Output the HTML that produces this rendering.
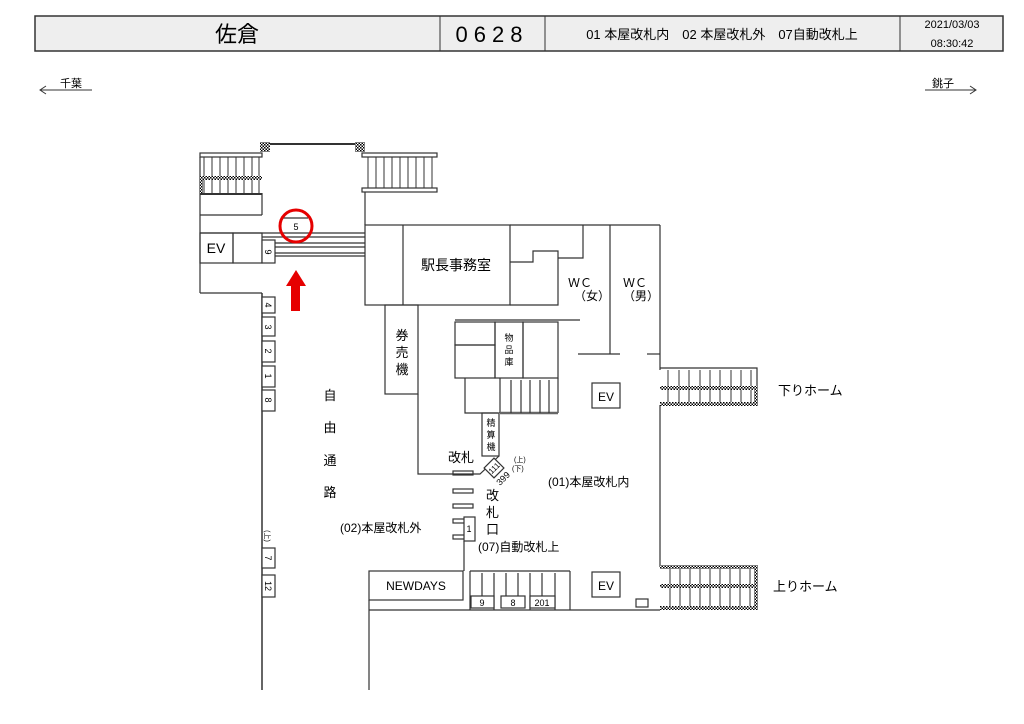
<!DOCTYPE html>
<html><head><meta charset="utf-8"><style>
html,body{margin:0;padding:0;background:#fff;}
svg{display:block;font-family:"Liberation Sans","Noto Sans CJK JP",sans-serif;}
</style></head><body>
<svg width="1024" height="724" viewBox="0 0 1024 724" xmlns="http://www.w3.org/2000/svg">
<defs>
<pattern id="h" width="3" height="3" patternUnits="userSpaceOnUse"><rect width="3" height="3" fill="#fff"/><rect width="1.5" height="1.5" fill="#000"/><rect x="1.5" y="1.5" width="1.5" height="1.5" fill="#000"/></pattern>
</defs>
<rect x="35" y="16" width="968" height="35" fill="#eeeeee" stroke="#333" stroke-width="1.5"/>
<line x1="440" y1="16" x2="440" y2="51" stroke="#333"/>
<line x1="545" y1="16" x2="545" y2="51" stroke="#333"/>
<line x1="900" y1="16" x2="900" y2="51" stroke="#333"/>
<text x="237" y="42" font-size="22" text-anchor="middle">佐倉</text>
<text x="492" y="42" font-size="22" text-anchor="middle" letter-spacing="6">0628</text>
<text x="722" y="39" font-size="13" text-anchor="middle">01 本屋改札内　02 本屋改札外　07自動改札上</text>
<text x="952" y="28" font-size="11" text-anchor="middle">2021/03/03</text>
<text x="952" y="47" font-size="11" text-anchor="middle">08:30:42</text>
<g stroke="#333" fill="none" stroke-width="1">
<line x1="40" y1="90" x2="92" y2="90"/><polyline points="46,86 40,90 46,94"/>
<line x1="925" y1="90" x2="976" y2="90"/><polyline points="970,86 976,90 970,94"/>
</g>
<text x="60" y="87" font-size="11">千葉</text>
<text x="932" y="87" font-size="11">銚子</text>
<g stroke="#333" fill="none" stroke-width="1.2">
<line x1="262" y1="144" x2="362" y2="144" stroke-width="2"/>
<rect x="200" y="153" width="62" height="4" fill="#fff"/>
<line x1="200" y1="157" x2="200" y2="293"/>
<line x1="200" y1="215" x2="262" y2="215"/>
<line x1="262" y1="193" x2="262" y2="215"/>
<line x1="200" y1="233" x2="365" y2="233"/>
<line x1="262" y1="237" x2="365" y2="237"/>
<line x1="275" y1="243" x2="365" y2="243"/>
<line x1="275" y1="247" x2="365" y2="247"/>
<line x1="275" y1="253" x2="365" y2="253"/>
<line x1="275" y1="256" x2="365" y2="256"/>
<line x1="283" y1="218" x2="308" y2="218"/>
<rect x="200" y="233" width="33" height="30"/>
<rect x="233" y="233" width="29" height="30"/>
<rect x="262" y="240" width="13" height="23" fill="#fff"/>
<line x1="200" y1="293" x2="262" y2="293"/>
<line x1="262" y1="293" x2="262" y2="690" stroke-width="1.5"/>
<rect x="362" y="153" width="75" height="4" fill="#fff"/>
<rect x="362" y="188" width="75" height="4" fill="#fff"/>
<line x1="365" y1="192" x2="365" y2="225"/>
<rect x="365" y="225" width="145" height="80"/>
<line x1="403" y1="225" x2="403" y2="305"/>
<line x1="510" y1="225" x2="660" y2="225"/>
<polyline points="510,262 533,262 533,251 558,251 558,305 510,305"/>
<polyline points="583,225 583,258 558,258"/>
<line x1="610" y1="225" x2="610" y2="354"/>
<line x1="660" y1="225" x2="660" y2="370"/>
<line x1="660" y1="405" x2="660" y2="567"/>
<line x1="578" y1="354" x2="620" y2="354"/>
<line x1="647" y1="354" x2="660" y2="354"/>
<line x1="455" y1="320" x2="580" y2="320"/>
<rect x="455" y="322" width="40" height="23"/>
<rect x="455" y="345" width="40" height="33"/>
<rect x="495" y="322" width="28" height="56"/>
<rect x="523" y="322" width="35" height="56"/>
<polyline points="465,378 465,413 498,413"/>
<line x1="500" y1="378" x2="500" y2="413"/>
<line x1="558" y1="378" x2="558" y2="413"/>
<line x1="500" y1="413" x2="558" y2="413" stroke-width="2.5" stroke="#666"/>
<line x1="511" y1="380" x2="511" y2="413"/><line x1="521" y1="380" x2="521" y2="413"/><line x1="530" y1="380" x2="530" y2="413"/><line x1="540" y1="380" x2="540" y2="413"/><line x1="549" y1="380" x2="549" y2="413"/>
<rect x="482" y="413" width="17" height="43"/>
<rect x="385" y="305" width="33" height="89"/>
<polyline points="418,394 418,474 480,474 499,456"/>
<rect x="453" y="471" width="20" height="4"/>
<rect x="453" y="489" width="20" height="4"/>
<rect x="453" y="504" width="20" height="4"/>
<rect x="453" y="519" width="20" height="4"/>
<rect x="453" y="535" width="20" height="4"/>
<rect x="464" y="517" width="11" height="24" fill="#fff"/>
<rect x="487" y="461" width="14" height="14" transform="rotate(45 494 468)" fill="#fff"/>
<line x1="464" y1="541" x2="464" y2="571"/>
<rect x="369" y="571" width="94" height="29"/>
<line x1="369" y1="600" x2="369" y2="690"/>
<line x1="369" y1="610" x2="660" y2="610"/>
<line x1="470" y1="571" x2="570" y2="571"/>
<line x1="470" y1="571" x2="470" y2="610"/>
<line x1="570" y1="571" x2="570" y2="610"/>
<line x1="482" y1="573" x2="482" y2="596"/><line x1="494" y1="573" x2="494" y2="610"/><line x1="506" y1="573" x2="506" y2="596"/><line x1="518" y1="573" x2="518" y2="596"/><line x1="530" y1="573" x2="530" y2="610"/><line x1="542" y1="573" x2="542" y2="596"/><line x1="555" y1="573" x2="555" y2="610"/>
<rect x="471" y="596" width="23" height="12" fill="#fff"/>
<rect x="501" y="596" width="24" height="12" fill="#fff"/>
<rect x="530" y="596" width="25" height="12" fill="#fff"/>
<rect x="592" y="383" width="28" height="25"/>
<rect x="592" y="572" width="28" height="25"/>
<rect x="636" y="599" width="12" height="8"/>
<rect x="262" y="297" width="13" height="16" fill="#fff"/>
<rect x="262" y="317" width="13" height="19" fill="#fff"/>
<rect x="262" y="341" width="13" height="21" fill="#fff"/>
<rect x="262" y="366" width="13" height="21" fill="#fff"/>
<rect x="262" y="390" width="13" height="21" fill="#fff"/>
<rect x="262" y="548" width="13" height="20" fill="#fff"/>
<rect x="262" y="575" width="13" height="22" fill="#fff"/>
<polyline points="660,368 757,368 757,405"/>
<line x1="660" y1="405" x2="757" y2="405"/>
</g>
<g stroke="#333" stroke-width="1">
<path d="M204 157V193M212 157V193M220 157V193M228 157V193M236 157V193M244 157V193M252 157V193M259 157V193"/>
<path d="M368 157V188M376 157V188M384 157V188M392 157V188M400 157V188M408 157V188M416 157V188M424 157V188M432 157V188"/>
<path d="M668 370V405M679 370V405M689 370V405M700 370V405M710 370V405M720 370V405M731 370V405M741 370V405M751 370V405"/>
<path d="M670 567V610M680 567V610M690 567V610M700 567V610M710 567V610M720 567V610M730 567V610M740 567V610M750 567V610"/>
</g>
<rect x="200" y="176" width="62" height="4" fill="url(#h)"/>
<rect x="200" y="193" width="62" height="2" fill="#333"/>
<rect x="200" y="176" width="3" height="17" fill="url(#h)"/>
<rect x="260" y="142" width="10" height="10" fill="url(#h)"/>
<rect x="355" y="142" width="10" height="10" fill="url(#h)"/>
<rect x="660" y="386" width="97" height="4" fill="url(#h)"/>
<rect x="660" y="402" width="97" height="4" fill="url(#h)"/>
<rect x="754" y="386" width="4" height="20" fill="url(#h)"/>
<rect x="660" y="565" width="98" height="4" fill="url(#h)"/>
<rect x="660" y="584" width="98" height="4" fill="url(#h)"/>
<rect x="660" y="606" width="98" height="4" fill="url(#h)"/>
<rect x="754" y="565" width="4" height="45" fill="url(#h)"/>
<circle cx="296" cy="226" r="16" fill="none" stroke="#e60000" stroke-width="3"/>
<polygon points="296,270 306,286 300,286 300,311 291,311 291,286 286,286" fill="#e60000"/>
<g font-size="13" fill="#000">
<text x="296" y="230" font-size="9" text-anchor="middle">5</text>
<text x="216" y="253" font-size="14" text-anchor="middle">EV</text>
<text x="456" y="270" font-size="14" text-anchor="middle">駅長事務室</text>
<text x="580" y="287" font-size="12" text-anchor="middle">ＷＣ</text>
<text x="592" y="300" font-size="12" text-anchor="middle">（女）</text>
<text x="635" y="287" font-size="12" text-anchor="middle">ＷＣ</text>
<text x="641" y="300" font-size="12" text-anchor="middle">（男）</text>
<text x="402" y="340" text-anchor="middle">券</text>
<text x="402" y="357" text-anchor="middle">売</text>
<text x="402" y="374" text-anchor="middle">機</text>
<text x="509" y="341" font-size="9" text-anchor="middle">物</text>
<text x="509" y="353" font-size="9" text-anchor="middle">品</text>
<text x="509" y="365" font-size="9" text-anchor="middle">庫</text>
<text x="491" y="426" font-size="9" text-anchor="middle">精</text>
<text x="491" y="438" font-size="9" text-anchor="middle">算</text>
<text x="491" y="450" font-size="9" text-anchor="middle">機</text>
<text x="606" y="401" font-size="12" text-anchor="middle">EV</text>
<text x="606" y="590" font-size="12" text-anchor="middle">EV</text>
<text x="778" y="395">下りホーム</text>
<text x="773" y="591">上りホーム</text>
<text x="448" y="462">改札</text>
<text x="486" y="500">改</text>
<text x="486" y="517">札</text>
<text x="486" y="534">口</text>
<text x="548" y="486" font-size="12">(01)本屋改札内</text>
<text x="340" y="532" font-size="12">(02)本屋改札外</text>
<text x="478" y="551" font-size="12">(07)自動改札上</text>
<text x="416" y="590" font-size="12" text-anchor="middle">NEWDAYS</text>
<text x="482" y="606" font-size="9" text-anchor="middle">9</text>
<text x="513" y="606" font-size="9" text-anchor="middle">8</text>
<text x="542" y="606" font-size="9" text-anchor="middle">201</text>
<text x="469" y="532" font-size="9" text-anchor="middle">1</text>
<text x="330" y="400" text-anchor="middle">自</text>
<text x="330" y="432" text-anchor="middle">由</text>
<text x="330" y="465" text-anchor="middle">通</text>
<text x="330" y="497" text-anchor="middle">路</text>
<text x="514" y="462" font-size="7">(上)</text>
<text x="512" y="471" font-size="7">(下)</text>
<text x="494" y="471" font-size="8" text-anchor="middle" transform="rotate(-45 494 468)">111</text>
<text x="500" y="486" font-size="9" transform="rotate(-45 500 486)">399</text>
</g>
<g font-size="9">
<text transform="translate(268,305) rotate(90)" text-anchor="middle" x="0" y="3">4</text>
<text transform="translate(268,327) rotate(90)" text-anchor="middle" x="0" y="3">3</text>
<text transform="translate(268,351) rotate(90)" text-anchor="middle" x="0" y="3">2</text>
<text transform="translate(268,376) rotate(90)" text-anchor="middle" x="0" y="3">1</text>
<text transform="translate(268,400) rotate(90)" text-anchor="middle" x="0" y="3">8</text>
<text transform="translate(268,558) rotate(90)" text-anchor="middle" x="0" y="3">7</text>
<text transform="translate(268,586) rotate(90)" text-anchor="middle" x="0" y="3">12</text>
<text transform="translate(268,536) rotate(90)" text-anchor="middle" x="0" y="3" font-size="7">(上)</text>
<text transform="translate(268,252) rotate(90)" text-anchor="middle" x="0" y="3">9</text>
</g>
</svg>
</body></html>
